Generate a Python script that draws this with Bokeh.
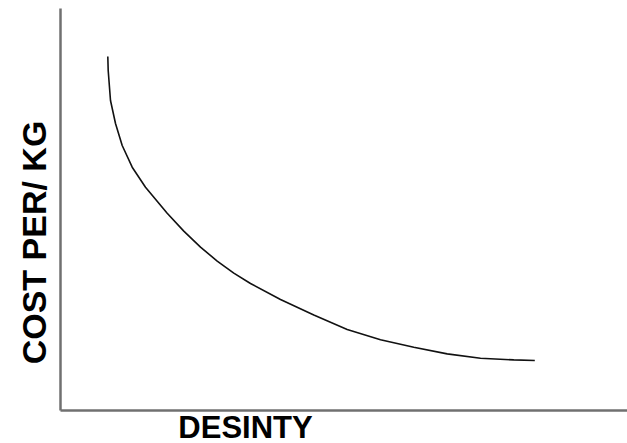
from bokeh.plotting import figure
from bokeh.models import Range1d, Label
from bokeh.embed import file_html
from bokeh.resources import INLINE
import math

# Curve (arbitrary units: density vs cost per kg)
density = [47.3, 47.7, 50.0, 55.0, 61.7, 71.7, 85.0, 106.7, 123.3, 140.0, 156.7, 173.3,
           190.0, 220.0, 253.3, 286.7, 320.0, 353.3, 386.7, 420.0, 453.3, 474.3]
cost = [354.0, 340.0, 310.0, 287.0, 265.0, 243.3, 223.3, 197.3, 179.4, 163.4, 149.4, 137.4,
        127.0, 111.0, 95.5, 81.0, 70.8, 63.3, 56.6, 52.3, 50.6, 50.0]

x_label = "DESINTY"
y_label = "COST PER/ KG"

# axis extents (layout)
X_AXIS_END = 567
Y_AXIS_TOP = 402

FONT = "Liberation Sans"

p = figure(width=627, height=443, output_backend="svg", toolbar_location=None,
           x_range=Range1d(-60, 567), y_range=Range1d(-33, 410))
p.min_border = 0
p.axis.visible = False
p.grid.visible = False
p.outline_line_color = None
p.background_fill_color = "white"
p.border_fill_color = "white"

# axis lines
p.segment(x0=[0, 0], y0=[0, 0], x1=[0, X_AXIS_END], y1=[Y_AXIS_TOP, 0],
          line_color="#707070", line_width=2.5)

p.line(density, cost, line_color="#111111", line_width=1.6)

p.add_layout(Label(x=185, y=-17, text=x_label, text_align="center",
                   text_baseline="alphabetic", text_font=FONT, text_font_style="bold",
                   text_font_size="31px", text_color="#000000"))
p.add_layout(Label(x=-27, y=168, text=y_label, text_align="center", angle=math.pi / 2,
                   text_baseline="alphabetic", text_font=FONT, text_font_style="bold",
                   text_font_size="34px", text_color="#000000"))

open("out.html", "w").write(file_html(p, INLINE))
